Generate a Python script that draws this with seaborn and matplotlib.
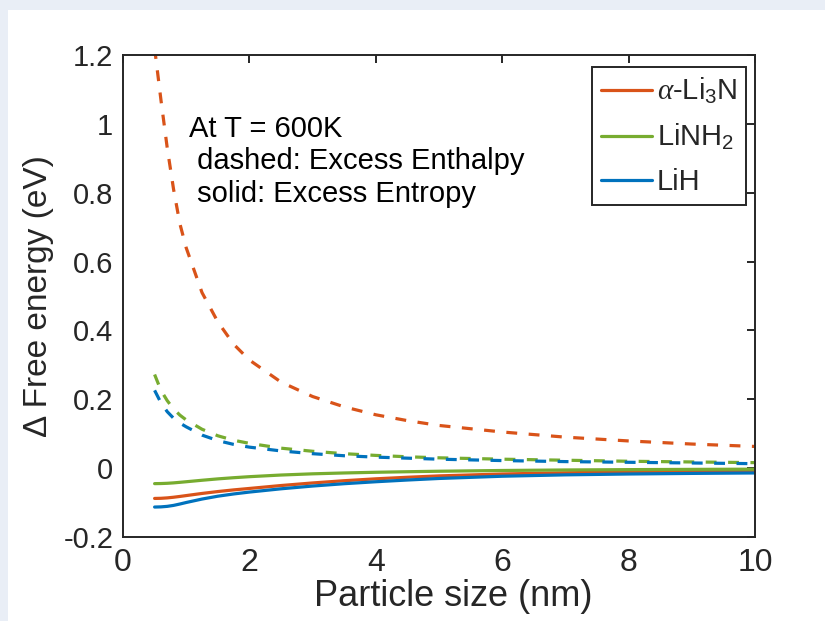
import numpy as np
import pandas as pd
import matplotlib
matplotlib.use("Agg")
import matplotlib.pyplot as plt
import seaborn as sns
from matplotlib.patches import Rectangle
from matplotlib.ticker import FuncFormatter

# ---------------- data ----------------
size_nm = [0.5, 0.6, 0.7, 0.8, 0.9, 1.0, 1.25, 1.5, 1.75, 2.0, 2.5, 3.0, 3.5,
           4.0, 4.5, 5.0, 6.0, 7.0, 8.0, 9.0, 10.0]

li3n_enthalpy = [1.22, 1.07, 0.93, 0.81, 0.71, 0.64, 0.51, 0.425, 0.36, 0.314,
                 0.25, 0.208, 0.178, 0.155, 0.138, 0.124, 0.105, 0.090, 0.079,
                 0.070, 0.063]
linh2_enthalpy = [0.272, 0.226, 0.196, 0.172, 0.154, 0.140, 0.113, 0.094, 0.081,
                  0.072, 0.058, 0.049, 0.042, 0.037, 0.033, 0.030, 0.026, 0.023,
                  0.020, 0.018, 0.016]
lih_enthalpy = [0.226, 0.190, 0.164, 0.145, 0.131, 0.120, 0.096, 0.080, 0.069,
                0.061, 0.050, 0.042, 0.036, 0.032, 0.029, 0.026, 0.022, 0.019,
                0.017, 0.015, 0.013]

li3n_entropy = [-0.0880, -0.0876, -0.0864, -0.0845, -0.0822, -0.0797, -0.0735,
                -0.0680, -0.0632, -0.0590, -0.0505, -0.0430, -0.0365, -0.0310,
                -0.0265, -0.0225, -0.0170, -0.0135, -0.0110, -0.0093, -0.0080]
linh2_entropy = [-0.0450, -0.0447, -0.0440, -0.0428, -0.0412, -0.0395, -0.0352,
                 -0.0312, -0.0278, -0.0248, -0.0200, -0.0165, -0.0140, -0.0120,
                 -0.0104, -0.0090, -0.0068, -0.0053, -0.0043, -0.0036, -0.0030]
lih_entropy = [-0.1130, -0.1125, -0.1110, -0.1082, -0.1042, -0.0998, -0.0898,
               -0.0815, -0.0750, -0.0695, -0.0600, -0.0520, -0.0452, -0.0395,
               -0.0345, -0.0300, -0.0235, -0.0195, -0.0170, -0.0153, -0.0140]

materials = [r"$\alpha$-Li$_3$N", "LiNH$_2$", "LiH"]
colors = ["#D95319", "#77AC30", "#0072BD"]
enthalpy = [li3n_enthalpy, linh2_enthalpy, lih_enthalpy]
entropy = [li3n_entropy, linh2_entropy, lih_entropy]

annotation = "At T = 600K\n dashed: Excess Enthalpy\n solid: Excess Entropy"
x_ticks = [0, 2, 4, 6, 8, 10]
y_ticks = [-0.2, 0, 0.2, 0.4, 0.6, 0.8, 1.0, 1.2]

# ---------------- style ----------------
sns.set_theme(style="white")
plt.rcParams["font.family"] = ["Liberation Sans", "DejaVu Sans"]
plt.rcParams["mathtext.fontset"] = "custom"
plt.rcParams["mathtext.rm"] = "Liberation Sans"
plt.rcParams["mathtext.it"] = "Liberation Serif:italic"
plt.rcParams["mathtext.bf"] = "Liberation Sans:bold"

W, H = 825, 621
fig = plt.figure(figsize=(W / 100, H / 100), dpi=100)
fig.patch.set_facecolor("#E9EEF6")
fig.patches.append(Rectangle((8 / W, 0), 1 - 8 / W, 1 - 10 / H,
                             transform=fig.transFigure, facecolor="white",
                             edgecolor="none", zorder=-10))
ax = fig.add_axes([123 / W, 1 - 537 / H, (755 - 123) / W, (537 - 55) / H])
ax.set_facecolor("white")

lw = 2.3
dash = (0, (3.4, 3.6))
for name, col, ys in zip(materials, colors, enthalpy):
    df = pd.DataFrame({"x": size_nm, "y": ys})
    sns.lineplot(data=df, x="x", y="y", ax=ax, color=col, linewidth=lw,
                 linestyle=dash, legend=False)

handles = []
for name, col, ys in zip(materials, colors, entropy):
    df = pd.DataFrame({"x": size_nm, "y": ys})
    sns.lineplot(data=df, x="x", y="y", ax=ax, color=col, linewidth=lw,
                 legend=False)
    handles.append(ax.lines[-1])

ax.set_xlim(0, 10)
ax.set_ylim(-0.2, 1.2)
ax.set_xticks(x_ticks)
ax.set_yticks(y_ticks)
fmt = FuncFormatter(lambda v, p: ("%g" % round(v, 3)).replace("\u2212", "-"))
ax.yaxis.set_major_formatter(fmt)
ax.xaxis.set_major_formatter(fmt)

for s in ax.spines.values():
    s.set_visible(True)
    s.set_color("#262626")
    s.set_linewidth(1.4)
ax.tick_params(axis="both", which="major", direction="in", length=5.5,
               width=1.4, color="#262626", top=True, right=True,
               labelcolor="#262626")
ax.tick_params(axis="y", labelsize=21, pad=7)
ax.tick_params(axis="x", labelsize=23, pad=8)

ax.set_xlabel("Particle size (nm)", fontsize=26, color="#262626")
ax.xaxis.set_label_coords(0.522, -0.087)
ax.xaxis.label.set_va("top")
ax.set_ylabel("\u0394 Free energy (eV)", fontsize=24, color="#262626", labelpad=7)

ax.text(1.04, 1.025, annotation, fontsize=21, color="black", va="top",
        ha="left", linespacing=1.19)

leg = ax.legend(handles, materials, loc="upper right", fontsize=21,
                frameon=True, fancybox=False, handlelength=1.75,
                handletextpad=0.15, borderpad=0.3, labelspacing=0.55,
                borderaxespad=0.0, bbox_to_anchor=(0.9857, 0.975))
leg.get_frame().set_edgecolor("#262626")
leg.get_frame().set_linewidth(1.4)
leg.get_frame().set_facecolor("white")
leg.get_frame().set_alpha(1)

fig.savefig("out.png", dpi=100, facecolor=fig.get_facecolor())
